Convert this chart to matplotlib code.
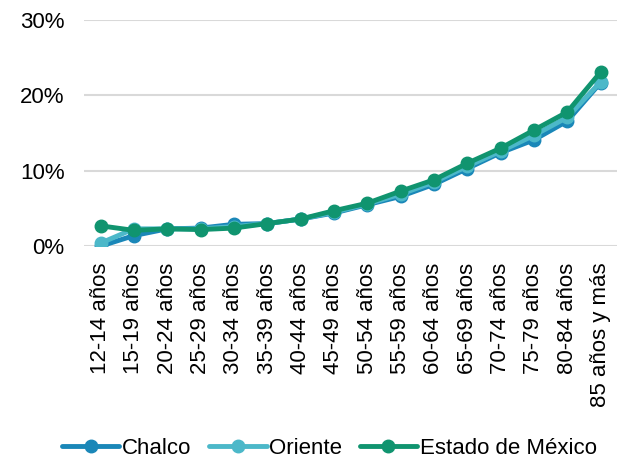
import matplotlib
matplotlib.use("Agg")
import matplotlib.pyplot as plt
from matplotlib.ticker import PercentFormatter

plt.rcParams["font.family"] = ["Liberation Sans", "DejaVu Sans"]

age_groups = [
    "12-14 años", "15-19 años", "20-24 años", "25-29 años", "30-34 años",
    "35-39 años", "40-44 años", "45-49 años", "50-54 años", "55-59 años",
    "60-64 años", "65-69 años", "70-74 años", "75-79 años", "80-84 años",
    "85 años y más",
]
chalco = [0.0, 1.4, 2.3, 2.4, 2.9, 3.0, 3.6, 4.4, 5.5, 6.6, 8.2, 10.3, 12.4, 14.1, 16.6, 21.7]
oriente = [0.4, 2.3, 2.3, 2.3, 2.6, 3.0, 3.6, 4.5, 5.6, 6.9, 8.5, 10.6, 12.6, 14.7, 17.1, 21.8]
estado = [2.7, 2.1, 2.3, 2.2, 2.4, 3.0, 3.6, 4.7, 5.7, 7.3, 8.8, 11.0, 13.0, 15.4, 17.8, 23.1]

series = [
    ("Chalco", chalco, "#1a87b8"),
    ("Oriente", oriente, "#4cb8c9"),
    ("Estado de México", estado, "#10946f"),
]

fig = plt.figure(figsize=(6.21, 4.68), dpi=100)
ax = fig.add_axes([0.135, 0.474, 0.859, 0.483])

x = range(len(age_groups))
for name, values, color in series:
    ax.plot(x, values, color=color, linewidth=3.5, marker="o", markersize=9,
            label=name, solid_capstyle="round", solid_joinstyle="round")

ax.set_xlim(-0.5, len(age_groups) - 0.5)
ax.set_ylim(0, 30)
ax.set_yticks([0, 10, 20, 30])
ax.yaxis.set_major_formatter(PercentFormatter(decimals=0))
ax.set_xticks(list(x))
ax.set_xticklabels(age_groups, rotation=90)
ax.tick_params(length=0, labelsize=16, colors="black")
ax.tick_params(axis="x", pad=12)
ax.tick_params(axis="y", pad=14)
ax.grid(axis="y", color="#d9d9d9", linewidth=1.5)
ax.set_axisbelow(True)
for spine in ax.spines.values():
    spine.set_visible(False)

fig.legend(loc="center", bbox_to_anchor=(0.53, 0.042), ncol=3, frameon=False,
           fontsize=16, handlelength=2.6, handletextpad=0.1, columnspacing=0.8)

fig.savefig("out.png", dpi=100)
